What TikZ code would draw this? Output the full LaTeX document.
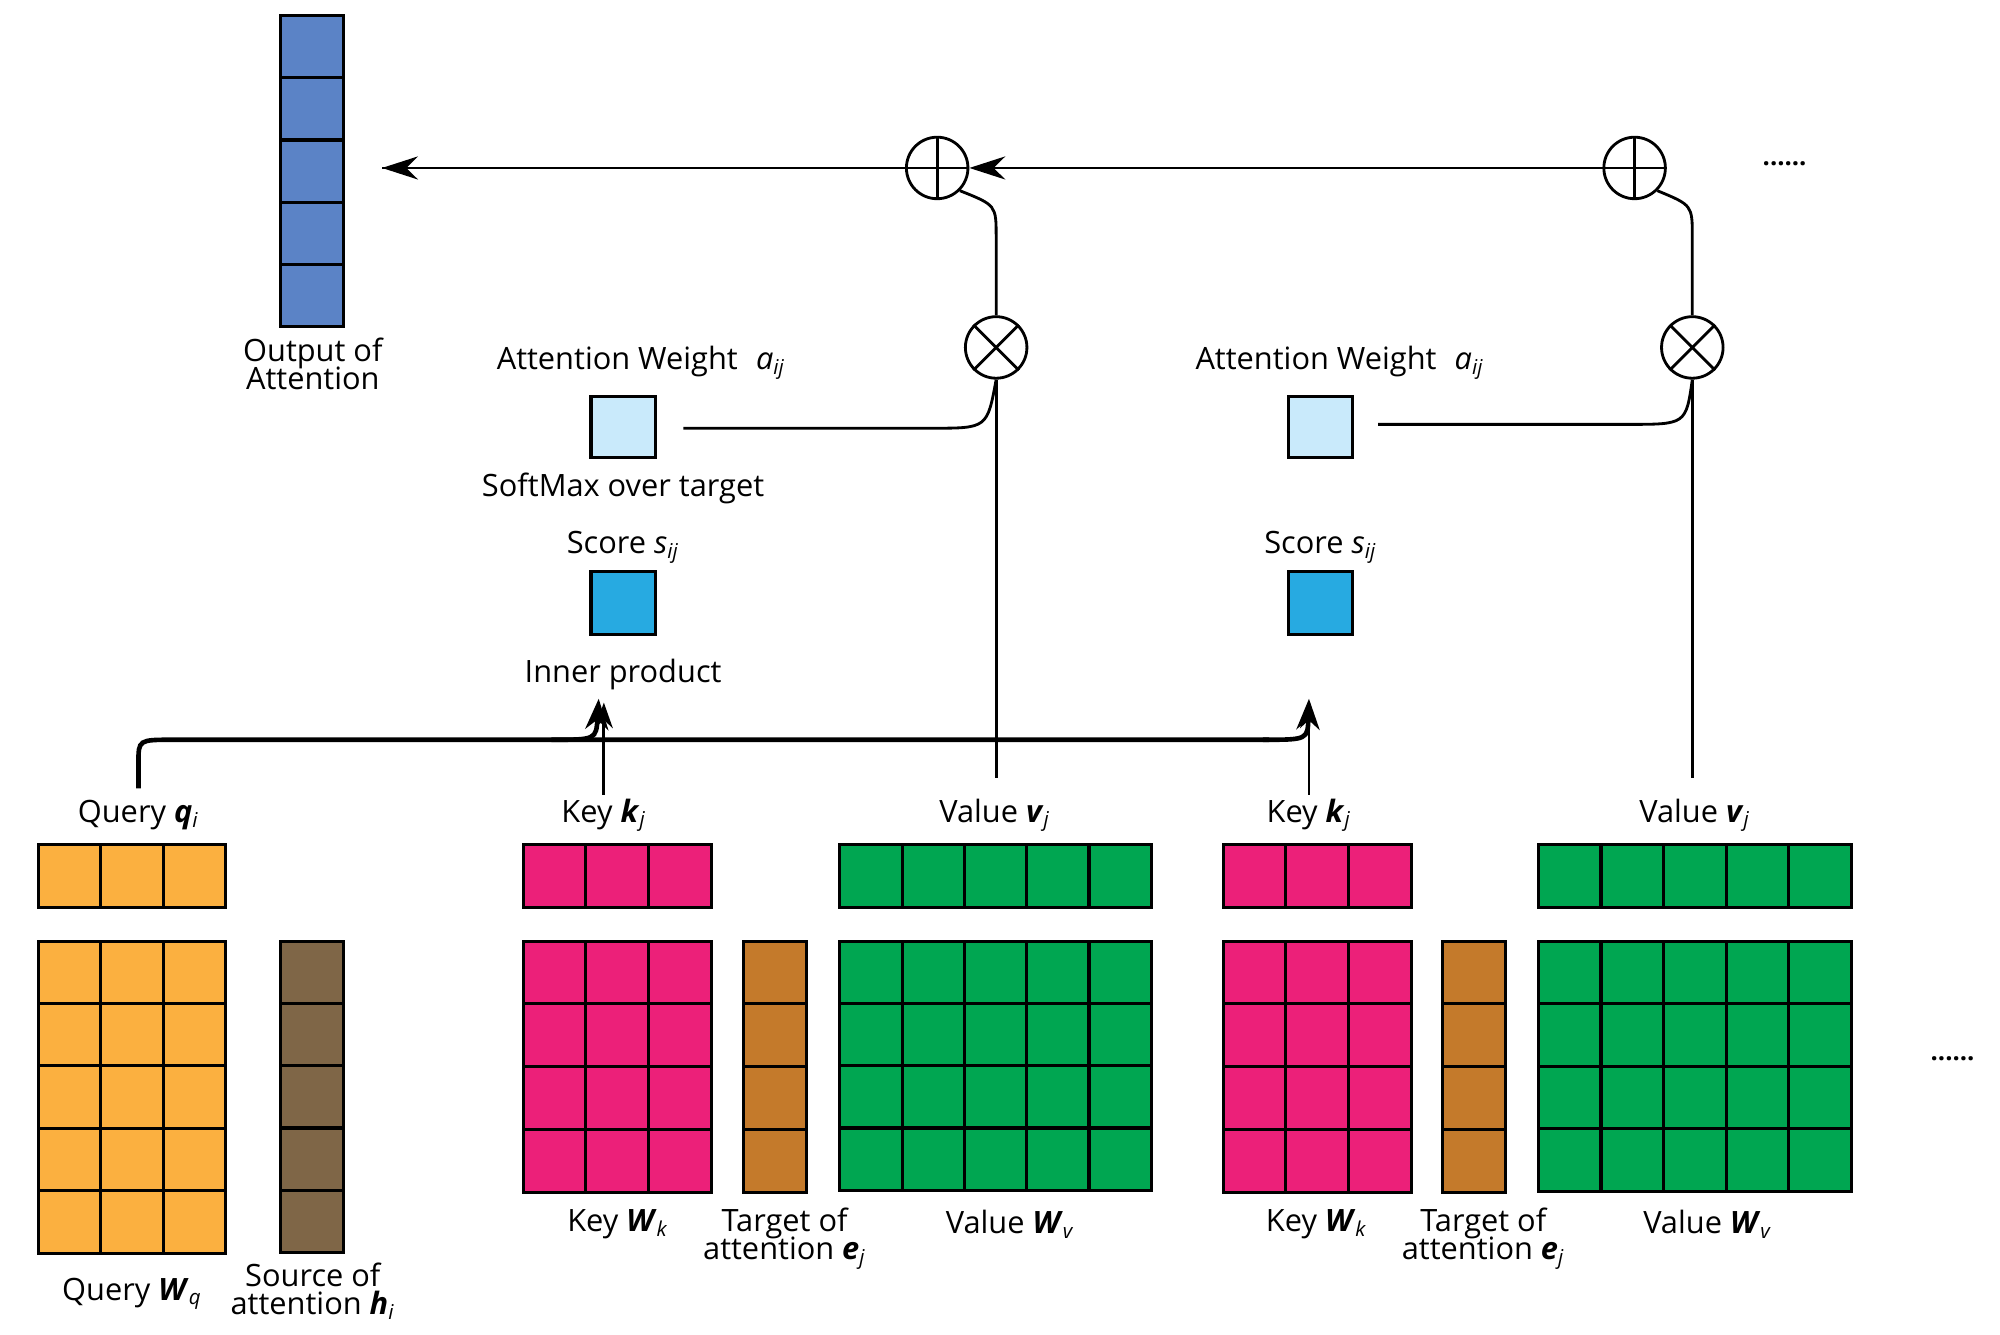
\documentclass[tikz,border=0pt]{standalone}
\usepackage{fontspec}
\setmainfont{Open Sans}
\usetikzlibrary{arrows.meta}
\definecolor{cout}{HTML}{5B83C6}
\definecolor{cq}{HTML}{FBB040}
\definecolor{ch}{HTML}{7F6647}
\definecolor{ck}{HTML}{EC2079}
\definecolor{ce}{HTML}{C47A2B}
\definecolor{cv}{HTML}{00A651}
\definecolor{cs}{HTML}{27AAE1}
\definecolor{ca}{HTML}{C9EAFB}
\newcommand{\grid}[6]{% x0,y0top,cols,rows,cell,color
  \foreach \i in {1,...,#3}{\foreach \j in {1,...,#4}{
    \draw[line width=1.2pt,fill=#6] ({#1+(\i-1)*#5},{-(#2+(\j-1)*#5)}) rectangle ++(#5,-#5);}}}
\newcommand{\bi}[2]{\textbf{\textit{#1}}\textsubscript{\textit{#2}}}
\begin{document}
\begin{tikzpicture}[x=0.5pt,y=0.5pt,font=\fontsize{12}{12}\selectfont,
  lbl/.style={align=center,inner sep=0pt},
  ln/.style={line width=1.1pt},
  circ/.style={circle,draw,line width=1.1pt,minimum size=24pt,inner sep=0pt}]
\useasboundingbox (0,0) rectangle (1560,-1041);
\grid{219}{12}{1}{5}{48.6}{cout}
\grid{30}{659}{3}{1}{48.7}{cq}
\grid{30}{734}{3}{5}{48.7}{cq}
\grid{219}{734}{1}{5}{48.6}{ch}
\grid{408}{659}{3}{1}{49}{ck}
\grid{408}{734}{3}{4}{49}{ck}
\grid{580}{734}{1}{4}{49}{ce}
\grid{655}{659}{5}{1}{48.6}{cv}
\grid{655}{734}{5}{4}{48.6}{cv}
\grid{954}{659}{3}{1}{49}{ck}
\grid{954}{734}{3}{4}{49}{ck}
\grid{1125}{734}{1}{4}{49}{ce}
\grid{1200}{659}{5}{1}{48.8}{cv}
\grid{1200}{734}{5}{4}{48.8}{cv}
\draw[line width=1.2pt,fill=cs] (461,-446) rectangle (511,-495);
\draw[line width=1.2pt,fill=ca] (461,-309) rectangle (511,-357);
\draw[line width=1.2pt,fill=cs] (1005,-446) rectangle (1055,-495);
\draw[line width=1.2pt,fill=ca] (1005,-309) rectangle (1055,-357);
% circles
\node[circ] (p1) at (731,-131) {};
\node[circ] (p2) at (1275,-131) {};
\node[circ] (m1) at (777,-271) {};
\node[circ] (m2) at (1320,-271) {};
\foreach \c in {p1,p2}{\draw[ln] (\c.north)--(\c.south) (\c.west)--(\c.east);}
\foreach \c in {m1,m2}{\draw[ln] (\c.north west)--(\c.south east) (\c.north east)--(\c.south west);}
\coordinate (out) at (298,-131);
\draw[ln,-{Stealth[length=14pt,width=9pt]}] (p2.west) -- (p1.east);
\draw[ln] (p1.west) -- (out);
\draw[ln,-{Stealth[length=14pt,width=9pt]}] (p1.west) -- (out);
\draw[ln] (p1.south east) .. controls (777,-160) .. (777,-185) -- (m1.north);
\draw[ln] (p2.south east) .. controls (1320,-160) .. (1320,-185) -- (m2.north);
\draw[ln] (m1.south) -- (777,-607);
\draw[ln] (m2.south) -- (1320,-607);
\draw[ln] (533,-334) -- (727,-334) .. controls (770,-334) .. (m1.south);
\draw[ln] (1075,-331) -- (1270,-331) .. controls (1315,-331) .. (m2.south);
% query line
\draw[line width=1.8pt] (108,-615) -- (108,-595) .. controls (108,-577) .. (135,-577) -- (990,-577);
\draw[line width=1.8pt,-{Stealth[length=12pt,width=9pt]}] (430,-577) .. controls (465,-577) .. (467,-545);
\draw[line width=1.8pt,-{Stealth[length=12pt,width=9pt]}] (985,-577) .. controls (1020,-577) .. (1021,-545);
\draw[ln,-{Stealth[length=10pt,width=7pt]}] (471,-620) -- (471,-548);
\draw[ln,-{Stealth[length=10pt,width=7pt]}] (1021,-620) -- (1021,-548);
% labels
\node[lbl] at (244,-284) {Output of\\[-1pt]Attention};
\node[lbl] at (500,-283) {Attention Weight\,\, \textit{a}\textsubscript{\textit{ij}}};
\node[lbl] at (1045,-283) {Attention Weight\,\, \textit{a}\textsubscript{\textit{ij}}};
\node[lbl] at (486,-381) {SoftMax over target};
\node[lbl] at (486,-427) {Score \textit{s}\textsubscript{\textit{ij}}};
\node[lbl] at (1030,-427) {Score \textit{s}\textsubscript{\textit{ij}}};
\node[lbl] at (486,-526) {Inner product};
\node[lbl] at (108,-636) {Query \bi{q}{i}};
\node[lbl] at (471,-636) {Key \bi{k}{j}};
\node[lbl] at (1021,-636) {Key \bi{k}{j}};
\node[lbl] at (776,-636) {Value \bi{v}{j}};
\node[lbl] at (1322,-636) {Value \bi{v}{j}};
\node[lbl] at (482,-955) {Key \bi{W}{k}};
\node[lbl] at (1027,-955) {Key \bi{W}{k}};
\node[lbl] at (612,-966) {Target of\\[-1pt]attention \bi{e}{j}};
\node[lbl] at (1157,-966) {Target of\\[-1pt]attention \bi{e}{j}};
\node[lbl] at (788,-955) {Value \bi{W}{v}};
\node[lbl] at (1332,-955) {Value \bi{W}{v}};
\node[lbl] at (103,-1009) {Query \bi{W}{q}};
\node[lbl] at (244,-1007) {Source of\\[-1pt]attention \bi{h}{i}};
\node[lbl,font=\bfseries] at (1392,-128) {......};
\node[lbl,font=\bfseries] at (1523,-826) {......};
\end{tikzpicture}
\end{document}
